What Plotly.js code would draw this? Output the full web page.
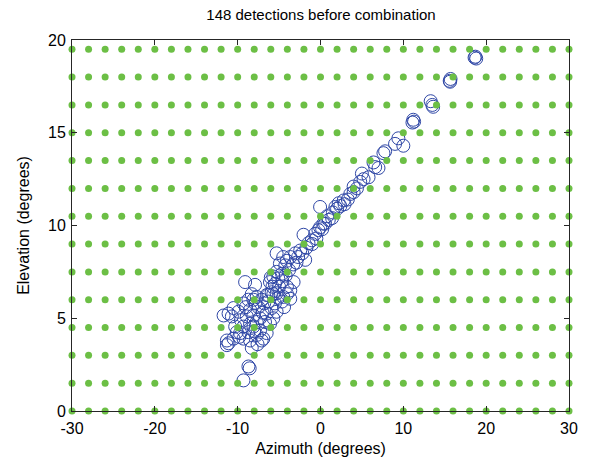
<!DOCTYPE html>
<html>
<head>
<meta charset="utf-8">
<script src="https://cdn.plot.ly/plotly-3.0.1.min.js"></script>
<style>html,body{margin:0;padding:0;background:#fff;}#chart{width:589px;height:468px;}</style>
</head>
<body>
<div id="chart"></div>
<script>
// Detections (azimuth, elevation)
const detAz = [18.7,18.8,18.6,15.6,15.7,15.65,13.3,13.6,13.5,11.2,11.3,11.1,9.4,10.0,9.0,7.8,7.6,6.4,6.6,5.0,
5.2,4.8,4.0,4.0,2.8,2.2,1.8,2.4,2.9,-0.05,0.55,1.0,1.4,-0.05,0.35,-0.25,-0.65,-1.05,-1.45,-2.05,
-2.45,-3.05,-2.7,-3.65,-4.05,-4.5,-5.3,-4.9,-4.25,-1.85,-5.3,-4.65,-5.7,-5.1,-6.1,-5.5,-9.1,-7.9,-3.25,-4.05,
-3.65,-5.9,-5.3,-6.3,-4.5,-11.1,-10.5,-11.7,-9.3,-8.7,-7.7,-7.1,-6.5,-5.7,-5.1,-4.65,-4.05,-3.65,-8.5,-8.1,
-8.9,-7.7,-8.5,-9.3,-8.1,-7.3,-8.7,-9.7,-7.7,-6.9,-9.3,-8.5,-10.3,-10.1,-11.3,-11.1,-11.3,-8.3,-7.1,-6.7,
-6.1,-6.5,-5.9,-5.3,-5.7,-8.7,-8.55,-9.3,-9.9,-10.7,-8.1,-7.5,-7.0,-7.9,-6.8,-7.3,-9.0,-9.6,-8.0,-6.3,
-5.0,-4.6,-5.8,-4.2,-3.8,-3.3,-2.9,-2.2,-1.7,-1.0,-0.5,0.2,0.8,1.5,2.0,3.3,3.6,4.4,5.8,7.0,
-9.8,-10.5,-7.6,-6.5,-5.5,-6.0,-4.4,-8.3];
const detEl = [19.1,19.0,19.05,17.8,17.9,17.75,16.7,16.4,16.5,15.7,15.6,15.55,14.7,14.3,14.4,14.0,13.9,13.4,13.15,12.8,
12.5,12.35,12.1,11.8,11.35,11.2,11.0,11.05,11.15,11.0,10.1,10.3,10.4,9.9,10.1,9.75,9.55,9.2,9.05,9.5,
8.65,8.5,8.3,8.3,8.1,8.3,8.5,7.95,7.85,8.15,7.5,7.4,7.25,7.15,6.95,6.85,6.95,6.8,6.95,6.7,
6.5,6.4,6.35,6.25,6.15,5.25,5.55,5.15,5.8,6.0,6.15,6.0,6.25,6.3,6.1,5.9,6.3,6.05,5.45,5.15,
5.1,4.8,4.7,4.55,4.55,4.35,4.25,4.2,4.1,3.9,3.9,3.8,4.55,4.25,3.8,3.65,3.55,3.4,3.8,4.8,
4.7,5.25,5.55,5.35,5.0,2.4,2.3,1.65,5.35,5.1,6.0,5.6,5.3,5.8,5.8,5.0,5.6,4.9,4.3,5.9,
6.7,7.0,6.7,7.3,7.6,7.9,8.0,8.5,8.8,9.0,9.3,9.8,10.5,10.7,10.9,11.4,11.7,12.0,12.6,13.1,
4.0,3.9,3.6,4.2,5.8,7.2,5.6,6.3];

// Search grid (green points)
const gridAz = [-30,-28,-26,-24,-22,-20,-18,-16,-14,-12,-10,-8,-6,-4,-2,0,2,4,6,8,10,12,14,16,18,20,22,24,26,28,30];
const gridEl = [0,1.5,3,4.5,6,7.5,9,10.5,12,13.5,15,16.5,18,19.5];

const xTickVals = [-30,-20,-10,0,10,20,30];
const xTickText = ['-30','-20','-10','0','10','20','30'];
const yTickVals = [0,5,10,15,20];
const yTickText = ['0','5','10','15','20'];

const gx = [], gy = [];
gridEl.forEach(e => gridAz.forEach(a => { gx.push(a); gy.push(e); }));

const traces = [
  {x: detAz, y: detEl, type: 'scatter', mode: 'markers', cliponaxis: false,
   marker: {symbol: 'circle-open', size: 13, color: '#2f47a6', line: {width: 1, color: '#2f47a6'}}},
  {x: gx, y: gy, type: 'scatter', mode: 'markers', cliponaxis: false,
   marker: {symbol: 'circle', size: 7, color: '#6cbf45'}}
];

const axisCommon = {
  showgrid: false, zeroline: false, showline: true, mirror: 'ticks',
  linecolor: '#262626', linewidth: 1, ticks: 'inside', ticklen: 5, tickcolor: '#262626',
  tickfont: {family: 'Liberation Sans, Arial, sans-serif', size: 16, color: '#000'}
};

const layout = {
  width: 589, height: 468,
  margin: {l: 72, r: 20, t: 40, b: 57},
  paper_bgcolor: '#fff', plot_bgcolor: '#fff',
  showlegend: false,
  font: {family: 'Liberation Sans, Arial, sans-serif', color: '#000'},
  title: {text: '148 detections before combination', x: 0.545, xanchor: 'center', y: 0.968, yanchor: 'middle',
          font: {size: 15, color: '#000'}},
  xaxis: Object.assign({}, axisCommon, {range: [-30, 30], tickvals: xTickVals, ticktext: xTickText,
          ticklabelstandoff: 3,
          title: {text: 'Azimuth (degrees)', font: {size: 16}, standoff: 6}}),
  yaxis: Object.assign({}, axisCommon, {range: [0, 20], tickvals: yTickVals, ticktext: yTickText,
          ticklabelstandoff: 2,
          title: {text: 'Elevation (degrees)', font: {size: 16}, standoff: 14}})
};

Plotly.newPlot('chart', traces, layout, {displayModeBar: false, staticPlot: true});
</script>
</body>
</html>
